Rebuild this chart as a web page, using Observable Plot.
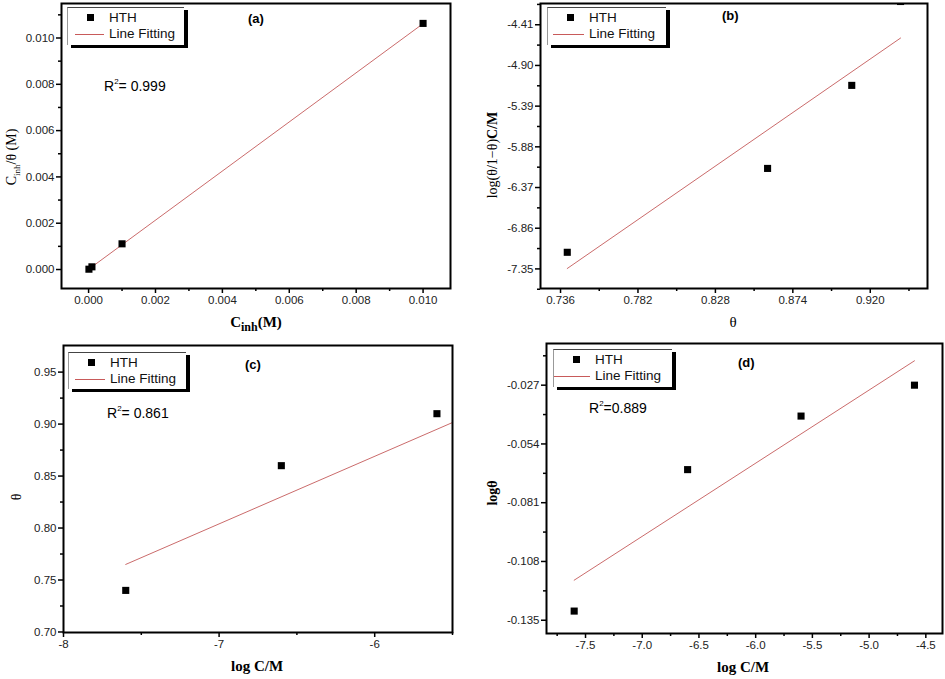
<!DOCTYPE html>
<html>
<head>
<meta charset="utf-8">
<script src="https://cdn.jsdelivr.net/npm/d3@7"></script>
<script src="https://cdn.jsdelivr.net/npm/@observablehq/plot@0.6"></script>
<style>
  body { margin:0; background:#fff; }
  #root { position:relative; width:945px; height:679px; background:#fff; overflow:hidden; font-family:"Liberation Sans", Arial, sans-serif; }
  .panel { position:absolute; }
  .ann { position:absolute; white-space:nowrap; color:#000; }
  .serif { font-family:"Liberation Serif","Times New Roman",serif; }
  .legend { position:absolute; background:#fff; border-top:1px solid #444; border-left:1px solid #999; box-shadow:4px 3px 0 #000; }
  .legend .mk { position:absolute; width:7px; height:7px; background:#000; }
  .legend .ln { position:absolute; height:1px; background:#c85a5a; }
  .legend .tx { position:absolute; font-size:13.5px; line-height:16px; color:#111; }
</style>
</head>
<body>
<div id="root"></div>
<script>
// ---------- Data ----------
// (a) Langmuir: C_inh/theta vs C_inh
const aX = [0.00001, 0.0001, 0.001, 0.01];
const aY = [0.0000135, 0.000116, 0.00111, 0.01063];
const aFitX = [0.00001, 0.01];
const aFitY = [0.00002, 0.01062];
const aXTicks = [0.000, 0.002, 0.004, 0.006, 0.008, 0.010];
const aYTicks = [0.000, 0.002, 0.004, 0.006, 0.008, 0.010];

// (b) log(theta/1-theta) C/M vs theta
const bX = [0.740, 0.859, 0.909, 0.938];
const bY = [-7.15, -6.14, -5.14, -4.13];
const bFitX = [0.740, 0.938];
const bFitY = [-7.345, -4.57];
const bXTicks = [0.736, 0.782, 0.828, 0.874, 0.920];
const bYTicks = [-4.41, -4.90, -5.39, -5.88, -6.37, -6.86, -7.35];

// (c) theta vs log C/M
const cX = [-7.6, -6.6, -5.6];
const cY = [0.74, 0.86, 0.91];
const cFitX = [-7.6, -5.5];
const cFitY = [0.765, 0.9015];
const cXTicks = [-8, -7, -6];
const cYTicks = [0.70, 0.75, 0.80, 0.85, 0.90, 0.95];

// (d) log theta vs log C/M
const dX = [-7.6, -6.6, -5.6, -4.6];
const dY = [-0.1308, -0.0658, -0.0412, -0.027];
const dFitX = [-7.6, -4.6];
const dFitY = [-0.1166, -0.0158];
const dXTicks = [-7.5, -7.0, -6.5, -6.0, -5.5, -5.0, -4.5];
const dYTicks = [-0.027, -0.054, -0.081, -0.108, -0.135];

// ---------- helpers ----------
const mids = (arr, extraBefore, extraAfter) => {
  const out = [];
  const step = arr[1] - arr[0];
  if (extraBefore) out.push(arr[0] - step / 2);
  for (let i = 0; i < arr.length - 1; i++) out.push((arr[i] + arr[i + 1]) / 2);
  if (extraAfter) out.push(arr[arr.length - 1] + step / 2);
  return out;
};
const fmt = n => v => v.toFixed(n);

function panel(o) {
  const pts = o.x.map((x, i) => ({x, y: o.y[i]}));
  const fit = o.fx.map((x, i) => ({x, y: o.fy[i]}));
  const svg = Plot.plot({
    width: o.w, height: o.h,
    marginLeft: o.m[0], marginRight: o.m[1], marginTop: o.m[2], marginBottom: o.m[3],
    style: {fontFamily: "'Liberation Sans', Arial, sans-serif", fontSize: "11.5px", color: "#000", background: "transparent", overflow: "visible"},
    x: {domain: o.xd, label: null},
    y: {domain: o.yd, label: null},
    marks: [
      Plot.axisX({ticks: o.xMinor, tickSize: 3, text: null, strokeWidth: 1.5}),
      Plot.axisX({ticks: o.xt, tickSize: 5, tickPadding: 2, tickFormat: o.xf, strokeWidth: 1.5, fill: "#222"}),
      Plot.axisY({ticks: o.yMinor, tickSize: 3, text: null, strokeWidth: 1.5}),
      Plot.axisY({ticks: o.yt, tickSize: 5, tickPadding: 2, tickFormat: o.yf, strokeWidth: 1.5, fill: "#222"}),
      Plot.line(fit, {x: "x", y: "y", stroke: "#c45a5a", strokeWidth: 0.9, clip: true}),
      Plot.dot(pts, {x: "x", y: "y", symbol: "square", r: 4, fill: "#000", stroke: "none", clip: true}),
      Plot.frame({stroke: "#000", strokeWidth: 2})
    ]
  });
  svg.classList.add("panel");
  svg.style.left = o.left + "px";
  svg.style.top = o.top + "px";
  return svg;
}

const root = document.getElementById("root");

root.appendChild(panel({
  left: 0, top: 0, w: 470, h: 340, m: [61, 20, 3, 52],
  x: aX, y: aY, fx: aFitX, fy: aFitY,
  xd: [-0.00081, 0.01082], yd: [-0.00082, 0.01149],
  xt: aXTicks, yt: aYTicks, xMinor: mids(aXTicks), yMinor: mids(aYTicks, false, true),
  xf: fmt(3), yf: fmt(3)
}));
root.appendChild(panel({
  left: 470, top: 0, w: 475, h: 340, m: [70, 18, 3, 52],
  x: bX, y: bY, fx: bFitX, fy: bFitY,
  xd: [0.7241, 0.954], yd: [-7.586, -4.154],
  xt: bXTicks, yt: bYTicks, xMinor: mids(bXTicks, false, true), yMinor: mids(bYTicks, true, true),
  xf: fmt(3), yf: fmt(2)
}));
root.appendChild(panel({
  left: 0, top: 340, w: 470, h: 339, m: [63, 18, 5, 47],
  x: cX, y: cY, fx: cFitX, fy: cFitY,
  xd: [-8, -5.5], yd: [0.6995, 0.9756],
  xt: cXTicks, yt: cYTicks, xMinor: mids(cXTicks, false, true), yMinor: mids(cYTicks),
  xf: fmt(0), yf: fmt(2)
}));
root.appendChild(panel({
  left: 470, top: 340, w: 475, h: 339, m: [76, 3, 3, 46],
  x: dX, y: dY, fx: dFitX, fy: dFitY,
  xd: [-7.844, -4.353], yd: [-0.1411, -0.00785],
  xt: dXTicks, yt: dYTicks, xMinor: [...mids(dXTicks), -7.75], yMinor: mids(dYTicks, true, false),
  xf: fmt(1), yf: fmt(3)
}));

// ---------- annotations ----------
function ann(html, left, top, style) {
  const d = document.createElement("div");
  d.className = "ann";
  d.innerHTML = html;
  d.style.left = left + "px";
  d.style.top = top + "px";
  if (style) d.style.cssText += style;
  root.appendChild(d);
  return d;
}
function legend(left, top, w, h, lineLeft) {
  const d = document.createElement("div");
  d.className = "legend";
  d.style.cssText += `left:${left}px;top:${top}px;width:${w}px;height:${h}px;`;
  d.innerHTML = `<div class="mk" style="left:${19}px;top:${6}px"></div>
    <div class="tx" style="left:41px;top:2px">HTH</div>
    <div class="ln" style="left:${lineLeft}px;width:${36 - lineLeft}px;top:26px"></div>
    <div class="tx" style="left:41px;top:18px">Line Fitting</div>`;
  root.appendChild(d);
}
legend(67, 7, 116, 37, 7);
legend(547, 7, 118, 37, 5);
legend(68, 352, 117, 36, 6);
legend(553, 349, 118, 37, 0);

// panel labels
const pl = "font-weight:bold;font-size:13px;";
ann("(a)", 248, 11, pl);
ann("(b)", 722, 8, pl);
ann("(c)", 245, 357, pl);
ann("(d)", 738, 355, pl);

// R² labels
const rl = "font-size:14px;";
ann("R<sup style='font-size:8px;vertical-align:7px'>2</sup>= 0.999", 104, 77, rl);
ann("R<sup style='font-size:8px;vertical-align:7px'>2</sup>= 0.861", 107, 404, rl);
ann("R<sup style='font-size:8px;vertical-align:7px'>2</sup>=0.889", 589, 399, rl);

// axis titles
const xl = "font-family:'Liberation Serif','Times New Roman',serif;font-weight:bold;font-size:15px;transform:translateX(-50%);";
ann("C<sub style='font-size:12px'>inh</sub>(M)", 256, 314, xl);
ann("<span style='font-weight:normal'>θ</span>", 733, 314, xl);
ann("log C/M", 257, 658, xl);
ann("log C/M", 743, 659, xl);

const yl = "font-family:'Liberation Serif','Times New Roman',serif;font-size:14px;transform:translate(-50%,-50%) rotate(-90deg);";
ann("C<sub style='font-size:9px'>inh</sub>/θ (M)", 13, 157, yl);
ann("log(θ/1−θ)<b>C/M</b>", 493, 155, yl);
ann("θ", 17, 497, yl);
ann("<b>logθ</b>", 493, 493, yl);
</script>
</body>
</html>
